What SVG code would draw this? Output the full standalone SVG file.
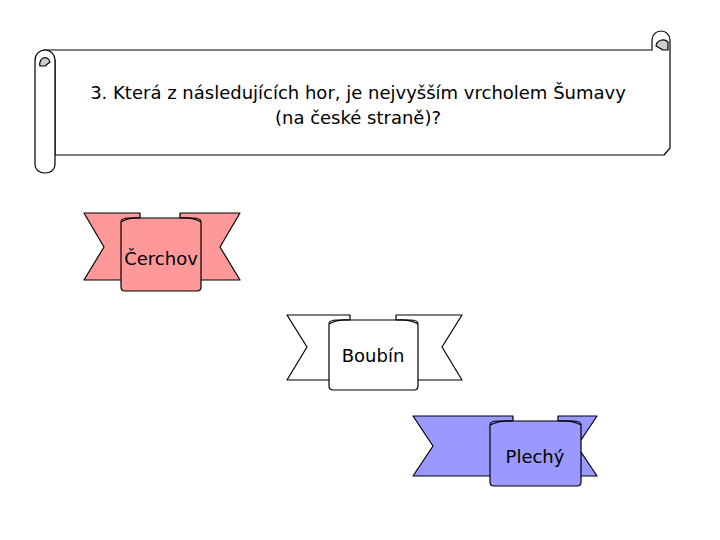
<svg xmlns="http://www.w3.org/2000/svg" width="720" height="540" viewBox="0 0 720 540">
<style>
.s{stroke:#000;stroke-width:1.2;stroke-linejoin:round}
.t{font-family:"DejaVu Sans",sans-serif;font-size:18px;fill:#000;text-anchor:middle}
</style>
<rect width="720" height="540" fill="#fff"/>
<g id="scroll">
<path class="s" fill="#fff" d="M44,50 H652 V40 a9,9 0 0 1 18,0 V148 l-6,7 H55 V60 Z"/>
<path class="s" fill="#fff" d="M35,60 a10,10 0 0 1 20,0 V165 a10,8 0 0 1 -20,0 Z"/>
<path class="s" fill="#ccc" d="M40,66 a5,6 0 0 1 10,-4 l-5,4 Z"/>
<path class="s" fill="#ccc" d="M656,46 a7,7 0 0 1 12,-4 V50 h-5 Z"/>
<text class="t" x="358" y="99">3. Která z následujících hor, je nejvyšším vrcholem Šumavy</text>
<text class="t" x="358" y="124">(na české straně)?</text>
</g>
<g id="cerchov" fill="#FF9999">
<path class="s" d="M84,213 H140 V280 H84 L104,247 Z"/>
<path class="s" d="M180,213 H240 L220,247 L240,280 H180 Z"/>
<path class="s" d="M121,222 q0,-4 8,-4 h64 q8,0 8,4 V287 q0,4 -4,4 H125 q-4,0 -4,-4 Z"/>
<path class="s" fill="none" d="M121,222 q8,-5 19,-4 M201,222 q-8,-5 -21,-4"/>
<text class="t" x="161" y="265">Čerchov</text>
</g>
<g id="boubin" fill="#fff">
<path class="s" d="M287,315 H350 V380 H287 L307,347 Z"/>
<path class="s" d="M396,315 H462 L442,347 L462,380 H396 Z"/>
<path class="s" d="M329,324 q0,-4 8,-4 h73 q8,0 8,4 V386 q0,4 -4,4 H333 q-4,0 -4,-4 Z"/>
<path class="s" fill="none" d="M329,324 q8,-5 21,-4 M418,324 q-8,-5 -22,-4"/>
<text class="t" x="373" y="362">Boubín</text>
</g>
<g id="plechy" fill="#9999FF">
<path class="s" d="M413,416 H513 V476 H413 L433,446 Z"/>
<path class="s" d="M558,416 H597 L577,446 L597,476 H558 Z"/>
<path class="s" d="M490,425 q0,-4 8,-4 h75 q8,0 8,4 V482 q0,4 -4,4 H494 q-4,0 -4,-4 Z"/>
<path class="s" fill="none" d="M490,425 q10,-5 23,-4 M581,425 q-8,-5 -23,-4"/>
<text class="t" x="535" y="463">Plechý</text>
</g>
</svg>
